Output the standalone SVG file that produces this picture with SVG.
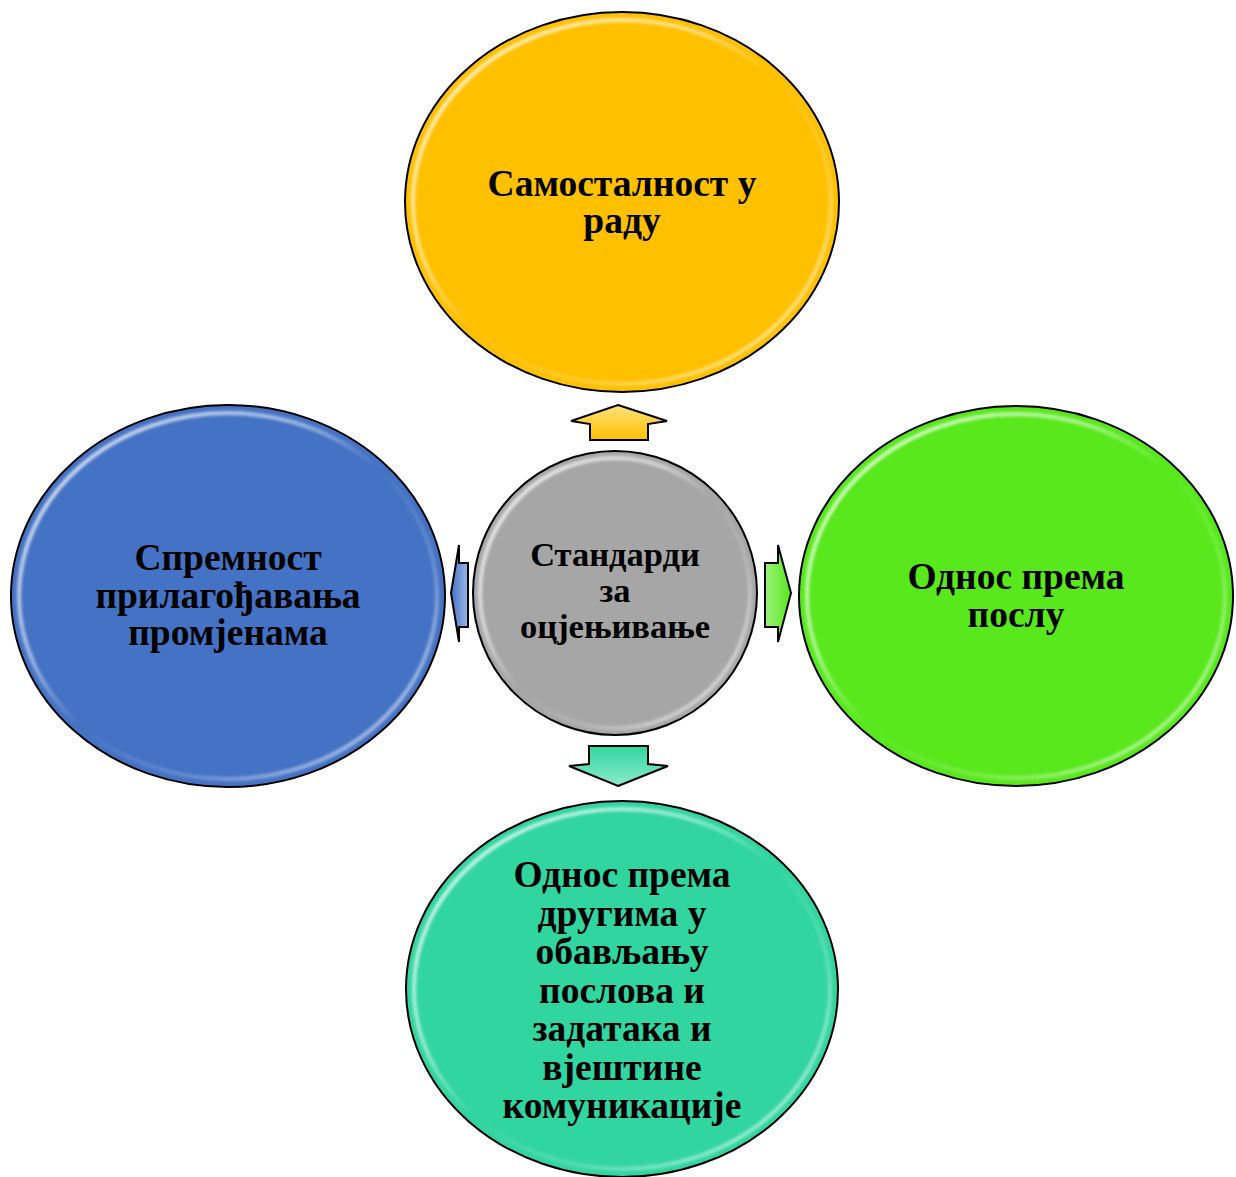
<svg xmlns="http://www.w3.org/2000/svg" width="1236" height="1177" viewBox="0 0 1236 1177">
<defs>
<style>
.node-fill{stroke:#000;stroke-width:2}
.gloss{fill:none;stroke:url(#glossGrad);stroke-width:4;filter:url(#soft)}
.lbl{font-family:"Liberation Serif","Times New Roman",serif;font-weight:bold;fill:#000;text-anchor:middle}
.big{font-size:37.5px}
.mid{font-size:34.5px}
.arrow{stroke:#000;stroke-width:2;stroke-linejoin:miter}
</style>
<filter id="soft" x="-10%" y="-10%" width="120%" height="120%"><feGaussianBlur stdDeviation="1.5"/></filter>
<linearGradient id="glossGrad" x1="0" y1="0" x2="1" y2="1">
<stop offset="0" stop-color="#fff" stop-opacity="0.9"/>
<stop offset="0.35" stop-color="#fff" stop-opacity="0.5"/>
<stop offset="0.5" stop-color="#fff" stop-opacity="0"/>
<stop offset="0.7" stop-color="#fff" stop-opacity="0.2"/>
<stop offset="1" stop-color="#fff" stop-opacity="0.8"/>
</linearGradient>
<linearGradient id="gY" x1="0" y1="0" x2="0" y2="1"><stop offset="0" stop-color="#FFE27A"/><stop offset="1" stop-color="#FFC000"/></linearGradient>
<linearGradient id="gB" x1="0" y1="0" x2="1" y2="0"><stop offset="0" stop-color="#4472C4"/><stop offset="1" stop-color="#9DB8E8"/></linearGradient>
<linearGradient id="gG" x1="0" y1="0" x2="1" y2="0"><stop offset="0" stop-color="#9BF27A"/><stop offset="1" stop-color="#58E81C"/></linearGradient>
<linearGradient id="gT" x1="0" y1="0" x2="0" y2="1"><stop offset="0" stop-color="#31D5A0"/><stop offset="1" stop-color="#8CEBCB"/></linearGradient>
</defs>

<g id="connectors">
<polygon class="arrow" fill="url(#gY)" points="618,405 667,421 648,424 648,440 590,440 590,424 571,421"/>
<polygon class="arrow" fill="url(#gB)" points="451,593 459,545 459,563 468,563 468,627 459,627 459,642"/>
<polygon class="arrow" fill="url(#gG)" points="791,593 778,545 778,563 765,563 765,627 778,627 778,642"/>
<polygon class="arrow" fill="url(#gT)" points="618,786 668,766 648,764 648,746 589,746 589,764 569,766"/>
</g>

<g id="node-top">
<ellipse class="node-fill" cx="622" cy="202" rx="217" ry="190" fill="#FFC000"/>
<ellipse class="gloss" cx="622" cy="202" rx="209" ry="182"/>
<text class="lbl big" x="622" y="196">Самосталност у</text>
<text class="lbl big" x="622" y="233">раду</text>
</g>

<g id="node-left">
<ellipse class="node-fill" cx="228" cy="596" rx="217" ry="191" fill="#4472C4"/>
<ellipse class="gloss" cx="228" cy="596" rx="209" ry="183"/>
<text class="lbl big" x="228" y="570">Спремност</text>
<text class="lbl big" x="228" y="608">прилагођавања</text>
<text class="lbl big" x="228" y="645">промјенама</text>
</g>

<g id="node-right">
<ellipse class="node-fill" cx="1016" cy="596" rx="217" ry="190" fill="#58E81C"/>
<ellipse class="gloss" cx="1016" cy="596" rx="209" ry="182"/>
<text class="lbl big" x="1016" y="589">Однос према</text>
<text class="lbl big" x="1016" y="627">послу</text>
</g>

<g id="node-bottom">
<ellipse class="node-fill" cx="622" cy="989" rx="216" ry="188" fill="#31D5A0"/>
<ellipse class="gloss" cx="622" cy="989" rx="208" ry="180"/>
<text class="lbl big" x="622" y="887">Однос према</text>
<text class="lbl big" x="622" y="926">другима у</text>
<text class="lbl big" x="622" y="964">обављању</text>
<text class="lbl big" x="622" y="1003">послова и</text>
<text class="lbl big" x="622" y="1041">задатака и</text>
<text class="lbl big" x="622" y="1080">вјештине</text>
<text class="lbl big" x="622" y="1118">комуникације</text>
</g>

<g id="node-center">
<circle class="node-fill" cx="615" cy="593" r="142" fill="#A6A6A6"/>
<ellipse class="gloss" cx="615" cy="593" rx="135" ry="135"/>
<text class="lbl mid" x="615" y="566">Стандарди</text>
<text class="lbl mid" x="615" y="602">за</text>
<text class="lbl mid" x="615" y="638">оцјењивање</text>
</g>
</svg>
